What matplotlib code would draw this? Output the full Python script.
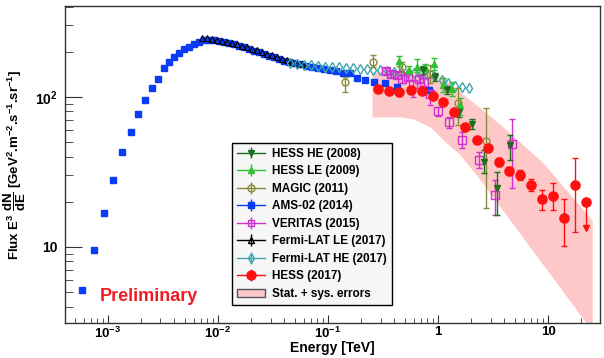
import numpy as np
import matplotlib.pyplot as plt
from matplotlib.patches import Patch
from matplotlib.ticker import FixedLocator, FixedFormatter, LogLocator, NullFormatter

plt.rcParams['font.family'] = ['Liberation Sans', 'DejaVu Sans']
plt.rcParams['font.weight'] = 'bold'
plt.rcParams['mathtext.fontset'] = 'custom'
plt.rcParams['mathtext.rm'] = 'Liberation Sans:bold'
plt.rcParams['mathtext.bf'] = 'Liberation Sans:bold'
plt.rcParams['mathtext.it'] = 'Liberation Sans:bold'
plt.rcParams['mathtext.default'] = 'bf'

# AMS-02 (2014)
ams_E = [5.8e-4, 7.46e-4, 9.2e-4, 1.11e-3, 1.34e-3, 1.62e-3, 1.87e-3, 2.17e-3, 2.51e-3,
         2.85e-3, 3.23e-3, 3.59e-3, 3.98e-3, 4.42e-3, 4.91e-3, 5.45e-3, 6.05e-3, 6.72e-3,
         7.46e-3, 8.28e-3, 9.2e-3, 1.02e-2, 1.13e-2, 1.26e-2, 1.40e-2, 1.55e-2, 1.72e-2,
         1.91e-2, 2.12e-2, 2.36e-2, 2.62e-2, 2.91e-2, 3.23e-2, 3.59e-2, 3.98e-2, 4.42e-2,
         4.91e-2, 5.56e-2, 6.31e-2, 7.16e-2, 8.11e-2, 9.2e-2, 0.104, 0.118, 0.137, 0.158,
         0.184, 0.217, 0.262, 0.330, 0.424, 0.828]
ams_F = [5.17, 9.55, 16.9, 28.0, 43.0, 58.4, 77.0, 95.5, 115, 132, 156, 171, 185, 196,
         209, 215, 226, 233, 240, 240, 240, 236, 233, 229, 226, 219, 215, 209, 203, 200,
         194, 188, 185, 179, 174, 171, 169, 166, 161, 158, 156, 154, 151, 149, 145, 145,
         134, 130, 126, 124, 117, 111]

# Fermi-LAT LE (2017)
fle_E = [7.16e-3, 7.94e-3, 8.81e-3, 9.79e-3, 1.09e-2, 1.21e-2, 1.34e-2, 1.49e-2, 1.65e-2,
         1.84e-2, 2.04e-2, 2.26e-2, 2.51e-2, 2.79e-2, 3.10e-2, 3.44e-2, 3.82e-2, 4.24e-2,
         4.71e-2, 5.23e-2, 5.80e-2]
fle_F = [247, 247, 244, 240, 236, 233, 229, 226, 219, 215, 209, 206, 200, 194, 191, 185,
         179, 176, 171, 169, 166]

# Fermi-LAT HE (2017)
fhe_E = [4.51e-2, 5.23e-2, 6.05e-2, 7.0e-2, 8.11e-2, 9.39e-2, 0.109, 0.126, 0.146, 0.169,
         0.195, 0.226, 0.256, 0.297, 0.344, 0.398, 0.461, 0.533, 0.605, 0.700, 0.794,
         0.920, 1.09, 1.23, 1.43, 1.65, 1.91]
fhe_F = [169, 166, 163, 163, 161, 158, 158, 158, 156, 156, 154, 154, 151, 151, 149, 147,
         147, 145, 145, 142, 140, 138, 130, 124, 118, 117, 115]

# MAGIC (2011)
magic_E = [0.143, 0.256, 0.471, 0.846, 1.52, 2.73]
magic_F = [126, 171, 158, 142, 91.2, 50.9]
magic_lo = [108, 158, 147, 124, 65, 18.2]
magic_hi = [136, 191, 171, 163, 115, 84.5]

# VERITAS (2015)
ver_E = [0.337, 0.374, 0.424, 0.471, 0.533, 0.593, 0.672, 0.746, 0.846, 1.0, 1.26, 1.65,
         2.36, 3.30, 4.71]
ver_F = [149, 142, 140, 132, 136, 122, 132, 126, 105, 80.7, 68.1, 51.7, 38.0, 22.2, 48.6]
ver_lo = [143, 136, 134, 124, 130, 100, 126, 118, 88, 75, 62, 45.7, 33.6, 16.3, 24.7]
ver_hi = [156, 148, 146, 140, 142, 130, 138, 134, 111, 86, 73.6, 58.4, 43, 28, 71.3]

# HESS HE (2008)
hhe_E = [0.731, 0.939, 1.21, 1.55, 2.04, 2.62, 3.44, 4.51]
hhe_F = [151, 136, 111, 79.4, 66.1, 36.9, 24.7, 47.9]
hhe_lo = [143, 128, 104, 74, 61, 31.1, 16.3, 38]
hhe_hi = [160, 144, 118, 85, 71, 44.4, 31.6, 55.8]

# HESS LE (2009)
hle_E = [0.442, 0.545, 0.644, 0.762, 0.920, 1.11, 1.34, 1.585]
hle_F = [174, 151, 158, 158, 166, 120, 113, 88.4]
hle_lo = [161, 142, 147, 149, 151, 108, 102, 75.9]
hle_hi = [188, 160, 178, 167, 182, 134, 126, 98.5]

# HESS (2017)
hess_E = [0.285, 0.359, 0.442, 0.568, 0.716, 0.901, 1.11, 1.40, 1.76, 2.26, 2.85, 3.59,
          4.42, 5.56, 7.0, 8.81, 11.1, 14.0, 17.6]
hess_F = [113, 110, 108, 111, 110, 102, 92.6, 79.4, 63.1, 51.7, 45.7, 36.9, 32.1, 30.2,
          25.9, 20.9, 21.9, 15.6, 25.9]
hess_lo = [110, 107, 105, 108, 107, 99, 90, 77, 61, 49.5, 43.5, 34.8, 30.2, 27.8, 23.6,
           17.6, 17.6, 10.2, 12.6]
hess_hi = [116, 113, 111, 114, 113, 105, 95.5, 82, 65.5, 54, 48, 39, 34.2, 32.8, 28.4,
           24.0, 26.7, 20.9, 39.2]
hess_ul_E = [22.1]
hess_ul_F = [20.0]
hess_ul_end = [13.4]

# Stat. + sys. band
band_E = [0.251, 0.451, 0.593, 0.846, 1.11, 1.585, 2.41, 3.9, 9.0, 25.1]
band_lo = [73.6, 73.6, 71.3, 63.1, 51.7, 41.1, 28, 17.4, 7.59, 2.75]
band_hi = [147, 147, 147, 142, 134, 108, 84.5, 63, 36.3, 15.1]

fig = plt.figure(figsize=(6.04, 3.58), dpi=100)
ax = fig.add_axes([0.1076, 0.0978, 0.8858, 0.8855])
ax.set_xscale('log')
ax.set_yscale('log')

ax.fill_between(band_E, band_lo, band_hi, color='#ffc8c8', lw=0, zorder=1)


def draw(E, F, lo, hi, **kw):
    F = np.array(F)
    yerr = [F - np.array(lo), np.array(hi) - F]
    return ax.errorbar(E, F, yerr=yerr, elinewidth=1, **kw)


c_hhe = '#1e6e1e'
c_hle = '#2ec02e'
c_mag = '#8a8a3a'
c_ams = '#0a3cf5'
c_ver = '#d030d0'
c_fle = 'black'
c_fhe = '#3aa8b0'
c_hess = '#ff1010'

ax.plot(ams_E, ams_F, 's', color=c_ams, ms=4.2, zorder=3)
ax.plot(fle_E, fle_F, '^', mfc='none', mec=c_fle, ms=4.5, mew=0.8, zorder=4)
ax.plot(fhe_E, fhe_F, 'd', mfc='none', mec=c_fhe, ms=5, mew=1, zorder=4)
draw(magic_E, magic_F, magic_lo, magic_hi, fmt='o', mfc='none', mec=c_mag, color=c_mag,
     ms=5, mew=1, capsize=2, zorder=5)
draw(ver_E, ver_F, ver_lo, ver_hi, fmt='s', mfc='none', mec=c_ver, color=c_ver,
     ms=5.5, mew=1, capsize=2, zorder=5)
draw(hle_E, hle_F, hle_lo, hle_hi, fmt='^', color=c_hle, ms=5, capsize=2, zorder=5)
draw(hhe_E, hhe_F, hhe_lo, hhe_hi, fmt='v', color=c_hhe, ms=5, capsize=2, zorder=5)
draw(hess_E, hess_F, hess_lo, hess_hi, fmt='o', color=c_hess, ms=6.6, capsize=2, zorder=6)
for e, f, g in zip(hess_ul_E, hess_ul_F, hess_ul_end):
    ax.plot([e, e], [f, g], color=c_hess, lw=1, zorder=6)
    ax.plot([e], [g], 'v', color=c_hess, ms=5, zorder=6)
ax.plot(hess_ul_E, hess_ul_F, 'o', color=c_hess, ms=6.6, zorder=6)

# legend proxies
nan = [np.nan]
handles = []
specs = [
    ('HESS HE (2008)', dict(fmt='v', color=c_hhe, ms=5)),
    ('HESS LE (2009)', dict(fmt='^', color=c_hle, ms=5)),
    ('MAGIC (2011)', dict(fmt='o', mfc='none', mec=c_mag, color=c_mag, ms=5)),
    ('AMS-02 (2014)', dict(fmt='s', color=c_ams, ms=4.5)),
    ('VERITAS (2015)', dict(fmt='s', mfc='none', mec=c_ver, color=c_ver, ms=5)),
    ('Fermi-LAT LE (2017)', dict(fmt='^', mfc='none', mec=c_fle, color=c_fle, ms=5)),
    ('Fermi-LAT HE (2017)', dict(fmt='d', mfc='none', mec=c_fhe, color=c_fhe, ms=5)),
    ('HESS (2017)', dict(fmt='o', color=c_hess, ms=6.5)),
]
for lab, kw in specs:
    h = ax.errorbar(nan, nan, yerr=[nan, nan], ls='-', lw=1, label=lab, **kw)
    handles.append(h)
handles.append(Patch(facecolor='#ffc8c8', edgecolor='#555555', label='Stat. + sys. errors'))

leg = ax.legend(handles=handles, loc='upper left', bbox_to_anchor=(0.312, 0.568),
                fontsize=8.5, frameon=True, fancybox=False, edgecolor='black',
                facecolor='#f6f6f6', framealpha=1, labelspacing=0.47,
                handlelength=2.4, handletextpad=0.6, borderpad=0.4, borderaxespad=0)
leg.get_frame().set_linewidth(1)
leg.set_zorder(10)

ax.text(0.065, 0.082, 'Preliminary', color='#ee1c25', fontsize=13, fontweight='bold',
        transform=ax.transAxes, va='center', ha='left')

ax.set_xlim(4.07e-4, 29.6)
ax.set_ylim(3.11, 404)

ax.xaxis.set_major_locator(FixedLocator([1e-3, 1e-2, 1e-1, 1, 10]))
ax.xaxis.set_major_formatter(FixedFormatter(['$10^{-3}$', '$10^{-2}$', '$10^{-1}$', '1', '10']))
ax.xaxis.set_minor_locator(LogLocator(base=10, subs=np.arange(2, 10), numticks=20))
ax.xaxis.set_minor_formatter(NullFormatter())
ax.yaxis.set_major_locator(FixedLocator([10, 100]))
ax.yaxis.set_major_formatter(FixedFormatter(['10', '$10^{2}$']))
ax.yaxis.set_minor_locator(LogLocator(base=10, subs=np.arange(2, 10), numticks=20))
ax.yaxis.set_minor_formatter(NullFormatter())

ax.tick_params(axis='both', which='both', direction='in', top=False, right=False,
               labelsize=10, color='#333333')
ax.tick_params(axis='x', which='major', length=6, pad=2, labelsize=9.5)
ax.tick_params(axis='x', which='minor', length=3.5)
ax.tick_params(axis='y', which='major', length=12, pad=5)
ax.tick_params(axis='y', which='minor', length=6)
for s in ax.spines.values():
    s.set_linewidth(1)
    s.set_color('#333333')

ax.set_xlabel('Energy [TeV]', fontsize=10, fontweight='bold', labelpad=0)
ax.set_ylabel(r'Flux E$^{3}$ $\dfrac{dN}{dE}$ [GeV$^{2}$.m$^{-2}$.s$^{-1}$.sr$^{-1}$]',
              fontsize=9.5, fontweight='bold', labelpad=5)

fig.savefig('out.png', dpi=100)
